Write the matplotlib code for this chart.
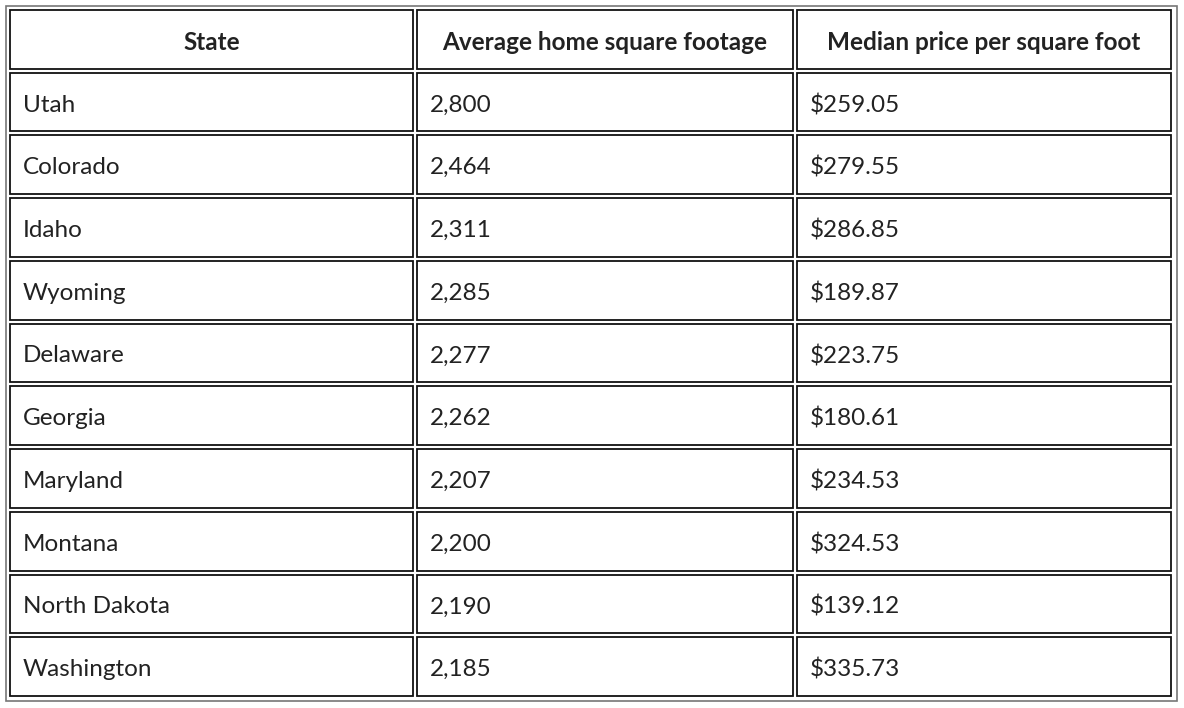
import matplotlib
matplotlib.use("Agg")
import matplotlib.pyplot as plt
from matplotlib.patches import Rectangle

headers = ["State", "Average home square footage", "Median price per square foot"]
states = ["Utah", "Colorado", "Idaho", "Wyoming", "Delaware", "Georgia", "Maryland",
          "Montana", "North Dakota", "Washington"]
sqft = ["2,800", "2,464", "2,311", "2,285", "2,277", "2,262", "2,207", "2,200", "2,190", "2,185"]
price = ["$259.05", "$279.55", "$286.85", "$189.87", "$223.75", "$180.61", "$234.53",
         "$324.53", "$139.12", "$335.73"]

W, H = 1184, 708
fig = plt.figure(figsize=(W/100, H/100), dpi=100)
ax = fig.add_axes([0, 0, 1, 1])
ax.set_xlim(0, W); ax.set_ylim(H, 0); ax.axis("off")

col_x = [10, 417, 797, 1175]
gap = 4
top, bottom = 10, 696
nrows = len(states) + 1
rh = (bottom - top - gap * (nrows - 1)) / nrows

ax.add_patch(Rectangle((6, 6), 1171, 695, fill=False, ec="#777777", lw=1.2))

rows = [headers] + [list(r) for r in zip(states, sqft, price)]
for i, row in enumerate(rows):
    y0 = top + i * (rh + gap)
    for j, txt in enumerate(row):
        x0 = col_x[j]
        x1 = col_x[j + 1] - gap
        ax.add_patch(Rectangle((x0, y0), x1 - x0, rh, fill=False, ec="#111111", lw=1.3))
        if i == 0:
            ax.text((x0 + x1) / 2, y0 + rh / 2 + 1, txt, ha="center", va="center_baseline",
                    fontsize=17.5, fontweight="bold", family=["Lato", "DejaVu Sans"], color="#222222")
        else:
            ax.text(x0 + 13, y0 + rh / 2 + 1, txt, ha="left", va="center_baseline",
                    fontsize=17.5, family=["Lato", "DejaVu Sans"], color="#222222")

fig.savefig("out.png", dpi=100, facecolor="white")
